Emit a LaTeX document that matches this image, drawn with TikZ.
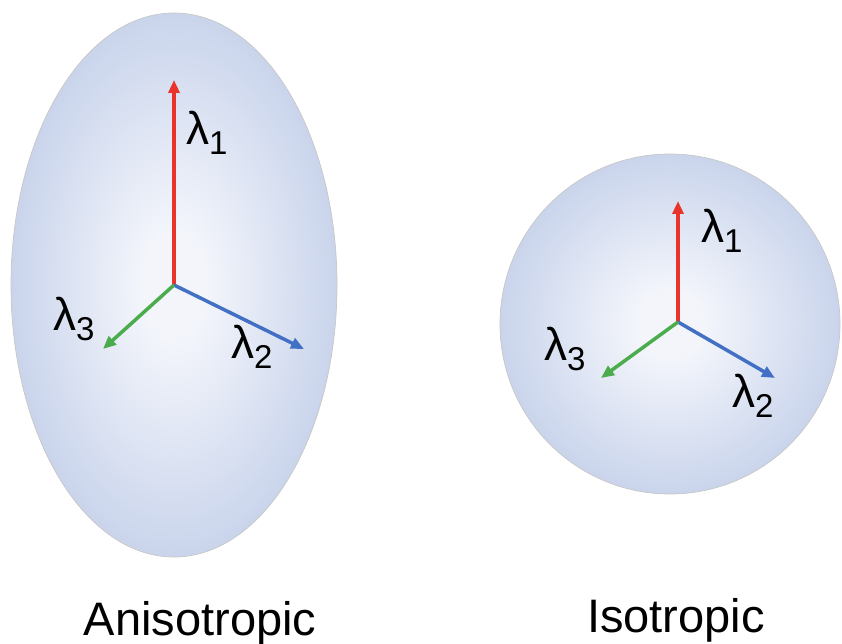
\documentclass[tikz,border=0pt]{standalone}
\usepackage{fontspec}
\setmainfont{Liberation Sans}
\usetikzlibrary{arrows.meta,positioning,shapes.geometric}
\definecolor{blobin}{RGB}{243,245,251}
\definecolor{blobout}{RGB}{166,185,223}
\definecolor{axred}{RGB}{232,52,42}
\definecolor{axblue}{RGB}{66,112,196}
\definecolor{axgreen}{RGB}{74,172,76}
\pgfdeclareradialshading{blobshade}{\pgfpoint{0bp}{0bp}}{color(0bp)=(blobin); color(5bp)=(blobin); color(42bp)=(blobout); color(50bp)=(blobout)}
\newcommand{\lam}[1]{\fontsize{46}{46}\selectfont λ\raisebox{-10pt}{\fontsize{33}{33}\selectfont #1}}
\begin{document}
\begin{tikzpicture}[x=1pt,y=-1pt,
blob/.style={shading=blobshade,draw=black!22,line width=0.7pt,inner sep=0pt},
ax/.style={line width=3.5pt,-{Triangle[length=13pt,width=11pt]}},
lab/.style={anchor=base west,inner sep=0pt},
title/.style={anchor=base,inner sep=0pt,font=\fontsize{47}{50}\selectfont}]
\useasboundingbox (0,0) rectangle (842,644);
\node[blob,ellipse,minimum width=326pt,minimum height=544pt] (aniso) at (174,285) {};
\node[blob,circle,minimum size=340pt] (iso) at (670,324) {};
\coordinate (oA) at (174,285);
\coordinate (A1) at (174,80);
\coordinate (A2) at (304,349);
\coordinate (A3) at (103,349);
\coordinate (oI) at (678,322);
\coordinate (I1) at (678,201);
\coordinate (I2) at (775,378);
\coordinate (I3) at (601,378);
\draw[ax,axred] (oA)--(A1);
\draw[ax,axblue] (oA)--(A2);
\draw[ax,axgreen] (oA)--(A3);
\draw[ax,axred] (oI)--(I1);
\draw[ax,axblue] (oI)--(I2);
\draw[ax,axgreen] (oI)--(I3);
\node[lab] (LA1) at (186,145) {\lam{1}};
\node[lab] (LA2) at (231,358) {\lam{2}};
\node[lab] (LA3) at (53,330) {\lam{3}};
\node[lab] (LI1) at (701,242) {\lam{1}};
\node[lab] (LI2) at (732,407) {\lam{2}};
\node[lab] (LI3) at (544,360) {\lam{3}};
\node[title] (tA) at (200,635) {Anisotropic};
\node[title] (tI) at (676,632) {Isotropic};
\end{tikzpicture}
\end{document}
